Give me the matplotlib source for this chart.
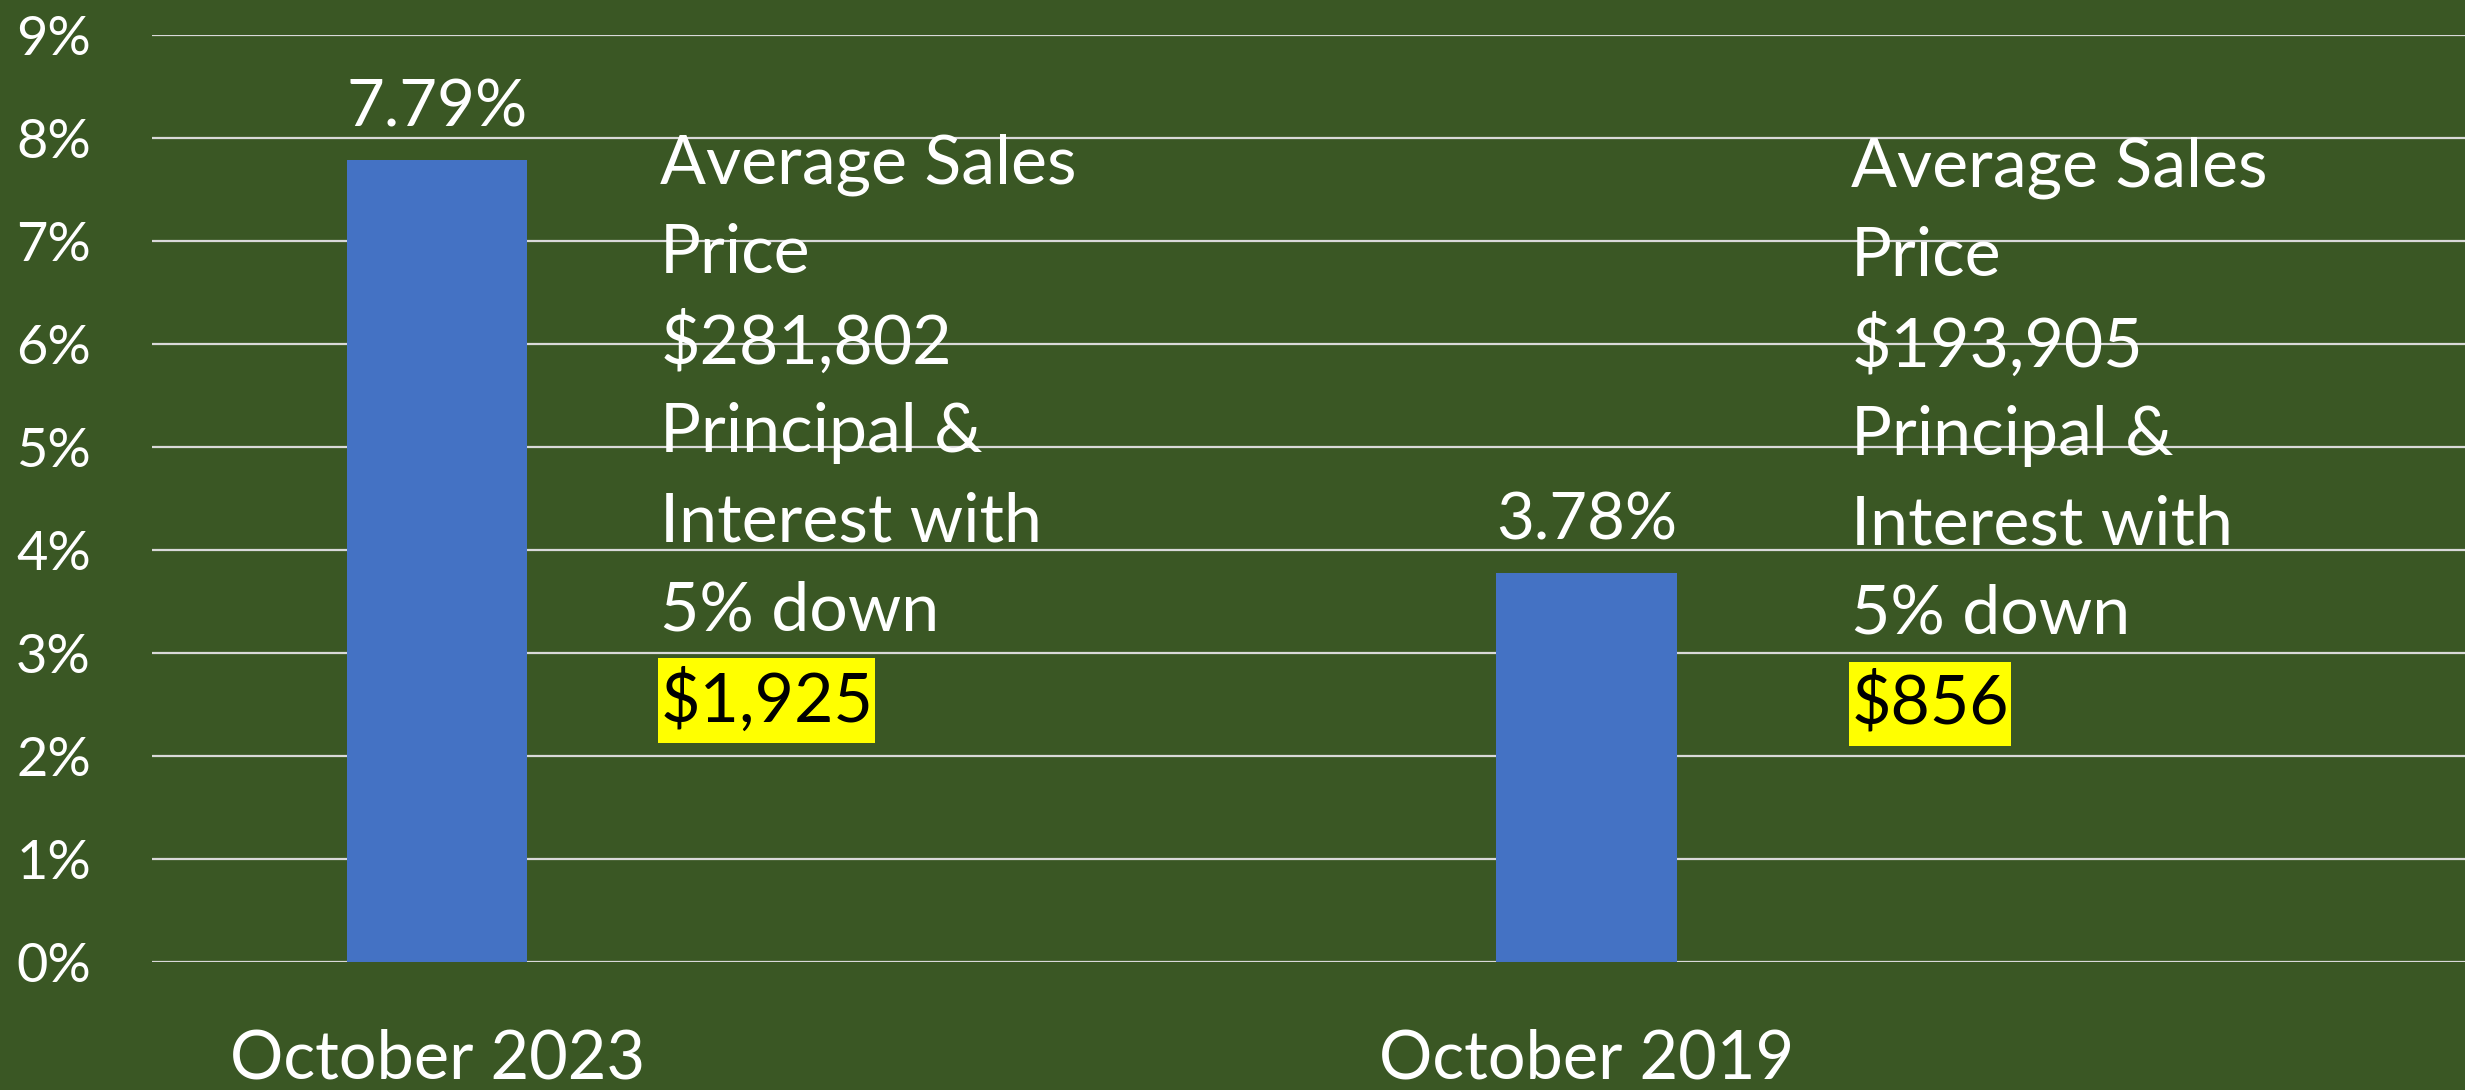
import matplotlib
matplotlib.use('Agg')
import matplotlib.pyplot as plt
from matplotlib.patches import Rectangle
from matplotlib.ticker import FuncFormatter

# Mortgage rate comparison
categories = ['October 2023', 'October 2019']
rates = [7.79, 3.78]
rate_labels = ['7.79%', '3.78%']
sales_prices = ['$281,802', '$193,905']
payments = ['$1,925', '$856']
y_ticks = list(range(0, 10))

BG = '#3A5724'
BAR = '#4472C4'
GRID = '#D9D9D9'
W, H, DPI = 2465, 1090, 100

plt.rcParams['font.family'] = ['Lato', 'DejaVu Sans']

fig = plt.figure(figsize=(W / DPI, H / DPI), dpi=DPI)
fig.patch.set_facecolor(BG)

# plot area in pixels: x 152..2465, y 35..962 (from top)
ax = fig.add_axes([152 / W, (H - 962) / H, (W - 152) / W, (962 - 35) / H])
ax.set_facecolor(BG)

x = list(range(len(categories)))
bar_w = 0.157
ax.bar(x, rates, width=bar_w, color=BAR, zorder=3)

ax.set_xlim(-0.248, 1.764)
ax.set_ylim(0, 9)
ax.set_yticks(y_ticks)
ax.yaxis.set_major_formatter(FuncFormatter(lambda v, p: f'{int(v)}%'))
ax.grid(axis='y', color=GRID, linewidth=1.6, zorder=1)
ax.set_axisbelow(True)
for s in ax.spines.values():
    s.set_visible(False)
ax.tick_params(axis='y', length=0, pad=44, labelsize=39, labelcolor='white')
ax.tick_params(axis='x', length=0, pad=48, labelsize=48, labelcolor='white')
ax.set_xticks(x)
ax.set_xticklabels(categories)

# value labels above the bars
for xi, r, lab in zip(x, rates, rate_labels):
    ax.annotate(lab, (xi, r), xytext=(0, 52), textcoords='offset pixels',
                ha='center', va='center', color='white', fontsize=47)

# side notes next to each bar
note_dx = [0.194, 0.230]
line_px = 89.3
first_line_px = [165, 168]
pay_texts = []
for xi, price, pay, dx, top in zip(x, sales_prices, payments, note_dx, first_line_px):
    lines = ['Average Sales', 'Price', price, 'Principal &', 'Interest with', '5% down']
    for i, ln in enumerate(lines):
        y_px = top + i * line_px
        ax.text(xi + dx, 1 - (y_px - 35) / (962 - 35), ln, transform=ax.get_xaxis_transform(),
                ha='left', va='center', color='white', fontsize=49, zorder=5)
    y_px = top + 6 * line_px
    t = ax.text(xi + dx, 1 - (y_px - 35) / (962 - 35), pay, transform=ax.get_xaxis_transform(),
                ha='left', va='center', color='black', fontsize=49, zorder=6)
    pay_texts.append(t)

# yellow highlight behind the payment amounts, taller than the text box
fig.canvas.draw()
renderer = fig.canvas.get_renderer()
for t in pay_texts:
    bb = t.get_window_extent(renderer)
    x0, y0 = bb.x0 - 2, bb.y0 - 10
    fig.patches.append(Rectangle((x0 / W, y0 / H), (bb.width + 4) / W, (bb.height + 20) / H,
                                 transform=fig.transFigure, facecolor='#FFFF00',
                                 edgecolor='none', zorder=0))
    t.set_zorder(7)
ax.set_zorder(1)
ax.patch.set_alpha(0)

fig.savefig('out.png', dpi=DPI, facecolor=BG)
